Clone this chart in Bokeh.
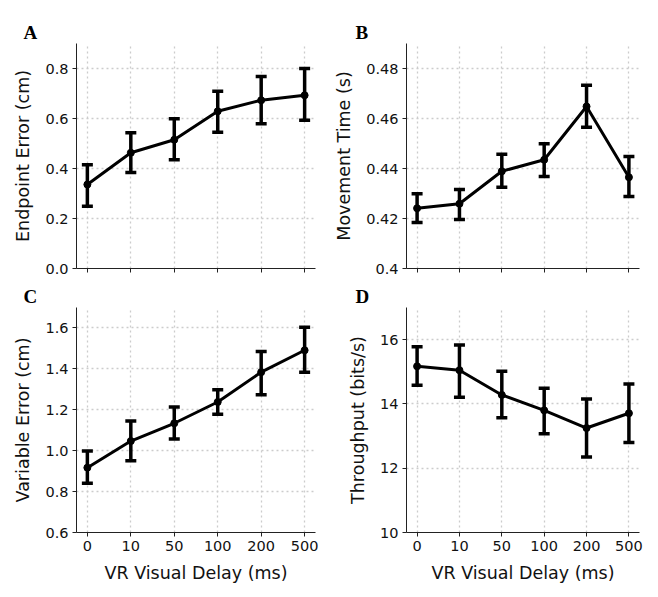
from bokeh.plotting import figure
from bokeh.layouts import gridplot
from bokeh.models import (ColumnDataSource, Whisker, TeeHead, Range1d, FixedTicker,
                          CustomLabelingPolicy)
from bokeh.embed import file_html
from bokeh.resources import INLINE

categories = ["0", "10", "50", "100", "200", "500"]

# Panel A: Endpoint Error (cm)
ee_mean = [0.336, 0.463, 0.515, 0.629, 0.673, 0.693]
ee_low = [0.249, 0.384, 0.435, 0.545, 0.579, 0.593]
ee_high = [0.415, 0.543, 0.599, 0.709, 0.768, 0.800]
ee_ticks = [0.0, 0.2, 0.4, 0.6, 0.8]
ee_labels = ["0.0", "0.2", "0.4", "0.6", "0.8"]

# Panel B: Movement Time (s)
mt_mean = [0.4241, 0.4259, 0.4389, 0.4435, 0.4648, 0.4365]
mt_low = [0.4184, 0.4196, 0.4325, 0.4368, 0.4565, 0.4288]
mt_high = [0.4299, 0.4316, 0.4457, 0.4499, 0.4733, 0.4448]
mt_ticks = [0.40, 0.42, 0.44, 0.46, 0.48]
mt_labels = ["0.4", "0.42", "0.44", "0.46", "0.48"]

# Panel C: Variable Error (cm)
ve_mean = [0.917, 1.047, 1.134, 1.238, 1.384, 1.491]
ve_low = [0.841, 0.951, 1.057, 1.178, 1.273, 1.384]
ve_high = [0.999, 1.145, 1.213, 1.298, 1.485, 1.603]
ve_ticks = [0.6, 0.8, 1.0, 1.2, 1.4, 1.6]
ve_labels = ["0.6", "0.8", "1.0", "1.2", "1.4", "1.6"]

# Panel D: Throughput (bits/s)
tp_mean = [15.17, 15.05, 14.28, 13.80, 13.25, 13.71]
tp_low = [14.58, 14.21, 13.57, 13.07, 12.35, 12.80]
tp_high = [15.78, 15.83, 15.02, 14.49, 14.15, 14.62]
tp_ticks = [10, 12, 14, 16]
tp_labels = ["10", "12", "14", "16"]

TICK_FONT = "14.5px"
LABEL_FONT = "17.5px"
FONT = "DejaVu Sans"


def panel(letter, mean, low, high, ylabel, yr, yticks, ylabels, bottom_row,
          width, height, bl, br, bt, bb, letter_offset):
    xs = list(range(len(categories)))
    p = figure(width=width, height=height, output_backend="svg", toolbar_location=None,
               x_range=Range1d(-0.25, len(categories) - 0.75), y_range=Range1d(*yr),
               min_border_left=bl, min_border_right=br, min_border_top=bt, min_border_bottom=bb)
    p.outline_line_color = None
    p.background_fill_color = "white"
    p.border_fill_color = "white"

    p.title.text = letter
    p.title.text_font = "Liberation Serif"
    p.title.text_font_style = "bold"
    p.title.text_font_size = "19px"
    p.title.text_color = "black"
    p.title.align = "left"
    p.title.offset = letter_offset
    p.title.standoff = 1

    p.xaxis.ticker = FixedTicker(ticks=xs)
    p.xaxis.major_label_overrides = {i: c for i, c in enumerate(categories)}
    p.yaxis.ticker = FixedTicker(ticks=yticks)
    p.yaxis.major_label_overrides = {t: l for t, l in zip(yticks, ylabels)}

    for ax in (p.xaxis[0], p.yaxis[0]):
        ax.axis_line_color = "#222222"
        ax.axis_line_width = 1
        ax.major_tick_line_color = "#222222"
        ax.major_tick_out = 4
        ax.major_tick_in = 0
        ax.minor_tick_line_color = None
        ax.major_label_text_font = FONT
        ax.major_label_text_font_size = TICK_FONT
        ax.major_label_text_color = "#111111"
        ax.major_label_standoff = 4
        ax.axis_label_text_font = FONT
        ax.axis_label_text_font_size = LABEL_FONT
        ax.axis_label_text_font_style = "normal"
        ax.axis_label_text_color = "#111111"

    p.yaxis.axis_label = ylabel
    p.yaxis.axis_label_standoff = 9
    if bottom_row:
        p.xaxis.axis_label = "VR Visual Delay (ms)"
        p.xaxis.axis_label_standoff = 9
    else:
        # top row: tick marks only, no tick labels (shared x axis)
        p.xaxis.major_label_text_font_size = "1px"
        p.xaxis.major_label_standoff = 0
        p.xaxis.major_label_policy = CustomLabelingPolicy(
            code="for (const i of indices) { indices.unset(i) } return indices")

    for g in (p.xgrid[0], p.ygrid[0]):
        g.grid_line_color = "#cccccc"
        g.grid_line_dash = "2 3"
        g.grid_line_width = 1.3
    p.ygrid.ticker = FixedTicker(ticks=yticks)
    p.xgrid.ticker = FixedTicker(ticks=xs)

    src = ColumnDataSource(dict(x=xs, mean=mean, low=low, high=high))
    p.line("x", "mean", source=src, line_color="black", line_width=3)
    w = Whisker(base="x", upper="high", lower="low", source=src,
                line_color="black", line_width=3.5,
                upper_head=TeeHead(size=11, line_color="black", line_width=3.5),
                lower_head=TeeHead(size=11, line_color="black", line_width=3.5))
    p.add_layout(w)
    p.scatter("x", "mean", source=src, size=7, color="black")
    return p


pA = panel("A", ee_mean, ee_low, ee_high, "Endpoint Error (cm)", (0, 0.9), ee_ticks, ee_labels,
           False, 331, 280, 76, 16, 43, 12, -53)
pB = panel("B", mt_mean, mt_low, mt_high, "Movement Time (s)", (0.4, 0.49), mt_ticks, mt_labels,
           False, 327, 280, 68, 19, 43, 12, -51)
pC = panel("C", ve_mean, ve_low, ve_high, "Variable Error (cm)", (0.6, 1.7), ve_ticks, ve_labels,
           True, 331, 317, 76, 16, 27, 65, -53)
pD = panel("D", tp_mean, tp_low, tp_high, "Throughput (bits/s)", (10, 17), tp_ticks, tp_labels,
           True, 327, 317, 68, 19, 27, 65, -51)

grid = gridplot([[pA, pB], [pC, pD]], toolbar_location=None)

open("out.html", "w").write(file_html(grid, INLINE))
